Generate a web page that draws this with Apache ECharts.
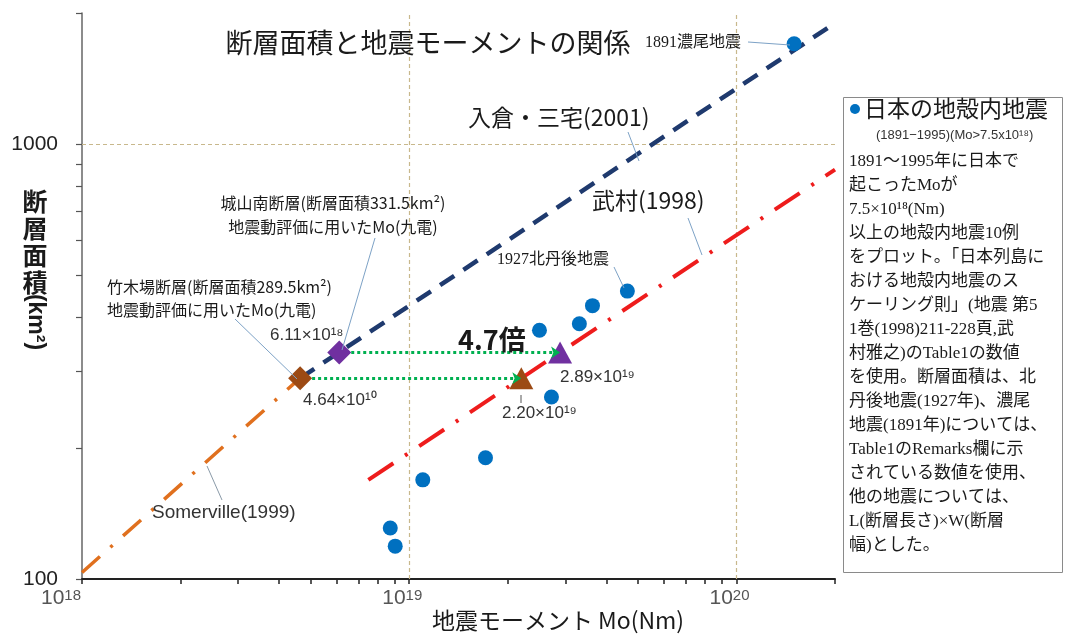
<!DOCTYPE html>
<html>
<head>
<meta charset="utf-8">
<title>断層面積と地震モーメントの関係</title>
<script src="https://cdn.jsdelivr.net/npm/echarts@6/dist/echarts.min.js"></script>
<style>
html, body { margin: 0; padding: 0; background: #fff; }
#main { width: 1066px; height: 635px; }
</style>
</head>
<body>
<div id="main"></div>
<script>
// 日本の地殻内地震 (1891-1995, Mo > 7.5x10^18)
var quakeMo   = [1.5e20, 4.64e19, 3.63e19, 3.31e19, 2.5e19, 2.72e19, 1.71e19, 1.10e19, 8.75e18, 9.06e18];
var quakeArea = [1700,   459,     425,     386,     373,    262,     190,     169,     131,     119];

// scaling lines (end points)
var somervilleMo = [1e18, 4.64e18];
var somervilleArea = [103.5, 289.5];
var irikuraMo = [4.64e18, 2e20];
var irikuraArea = [289.5, 1896];
var takemuraMo = [7.5e18, 2e20];
var takemuraArea = [169, 873];

// 竹木場断層 / 城山南断層
var faultArea = [289.5, 331.5];
var faultMoKyuden = [4.64e18, 6.11e18];
var faultMoTakemura = [2.20e19, 2.89e19];

// axes
var xTickValues = [1e18, 2e18, 3e18, 4e18, 5e18, 6e18, 7e18, 8e18, 9e18,
                   1e19, 2e19, 3e19, 4e19, 5e19, 6e19, 7e19, 8e19, 9e19,
                   1e20, 2e20];
var xLabelValues = [1e18, 1e19, 1e20];
var yTickValues = [100, 200, 300, 400, 500, 600, 700, 800, 900, 1000, 2000];
var yLabelValues = [100, 1000];
var gridX = [1e19, 1e20];
var gridY = [1000];

var legendLines = [
    '1891～1995年に日本で',
    '起こったMoが',
    '7.5×10¹⁸(Nm)',
    '以上の地殻内地震10例',
    'をプロット。「日本列島に',
    'おける地殻内地震のス',
    'ケーリング則」(地震 第5',
    '1巻(1998)211-228頁,武',
    '村雅之)のTable1の数値',
    'を使用。断層面積は、北',
    '丹後地震(1927年)、濃尾',
    '地震(1891年)については、',
    'Table1のRemarks欄に示',
    'されている数値を使用、',
    '他の地震については、',
    'L(断層長さ)×W(断層',
    '幅)とした。'
];

function pairs(xs, ys) {
    return xs.map(function (x, i) { return [x, ys[i]]; });
}

var sans = '"Noto Sans CJK JP", sans-serif';
var latin = '"Liberation Sans", "Noto Sans CJK JP", sans-serif';
var serif = '"Liberation Serif", "Noto Sans CJK JP", serif';

function txt(x, y, text, size, opt) {
    opt = opt || {};
    var style = {
        text: text,
        fontSize: size,
        fontFamily: opt.font || sans,
        fontWeight: opt.weight || 'normal',
        fill: opt.color || '#1a1a1a',
        align: opt.align || 'left',
        verticalAlign: opt.valign || 'middle'
    };
    if (opt.lineHeight) style.lineHeight = opt.lineHeight;
    return { type: 'text', x: x, y: y, z: 100, rotation: opt.rotation || 0, style: style };
}
function leader(x1, y1, x2, y2, color) {
    return {
        type: 'line', z: 99,
        shape: { x1: x1, y1: y1, x2: x2, y2: y2 },
        style: { stroke: color || '#7da2c6', lineWidth: 1 }
    };
}

var chart = echarts.init(document.getElementById('main'));
var option = {
    animation: false,
    backgroundColor: '#fff',
    grid: { left: 82, right: 231, top: 13, bottom: 56 },
    xAxis: {
        type: 'log',
        logBase: 10,
        min: 1e18,
        max: 2e20,
        axisLine: { lineStyle: { color: '#222', width: 2 } },
        axisTick: { show: true, length: 5, customValues: xTickValues, lineStyle: { color: '#222', width: 1.5 } },
        axisLabel: {
            customValues: xLabelValues,
            margin: 9,
            formatter: function (v) {
                var e = Math.round(Math.log(v) / Math.LN10);
                return '{b|10}{s|' + e + '}' + (v === 1e18 ? '{g2|}' : '{g|}');
            },
            rich: {
                b: { fontSize: 21, color: '#555', fontFamily: latin },
                s: { fontSize: 15, color: '#555', fontFamily: latin, verticalAlign: 'top' },
                g: { width: 14 },
                g2: { width: 42 }
            }
        },
        splitLine: { show: false }
    },
    yAxis: {
        type: 'log',
        logBase: 10,
        min: 100,
        max: 2000,
        axisLine: { lineStyle: { color: '#666', width: 1.5 } },
        axisTick: { show: true, length: 6, customValues: yTickValues, lineStyle: { color: '#555', width: 1.2 } },
        axisLabel: {
            customValues: yLabelValues,
            margin: 24,
            fontSize: 21,
            color: '#222',
            fontFamily: latin,
            formatter: function (v) { return String(Math.round(v)); }
        },
        splitLine: { show: false }
    },
    series: [
        {
            name: 'Somerville(1999)',
            type: 'line',
            z: 2,
            symbol: 'none',
            data: pairs(somervilleMo, somervilleArea),
            lineStyle: { color: '#e0701e', width: 3.5, type: [24, 14, 3, 14] }
        },
        {
            name: '入倉・三宅(2001)',
            type: 'line',
            z: 2,
            symbol: 'none',
            data: pairs(irikuraMo, irikuraArea),
            lineStyle: { color: '#1f3a6e', width: 4.5, type: [17, 11] }
        },
        {
            name: '武村(1998)',
            type: 'line',
            z: 2,
            symbol: 'none',
            data: pairs(takemuraMo, takemuraArea),
            lineStyle: { color: '#ee1c1c', width: 4, type: [30, 14, 3, 14] }
        },
        {
            name: '日本の地殻内地震',
            type: 'scatter',
            z: 6,
            symbolSize: 15,
            itemStyle: { color: '#0070c0', opacity: 1 },
            data: pairs(quakeMo, quakeArea),
            markLine: {
                silent: true,
                z: 1,
                symbol: 'none',
                label: { show: false },
                lineStyle: { color: '#c8b88c', type: [4, 3], width: 1.2 },
                data: gridX.map(function (v) { return { xAxis: v }; })
                    .concat(gridY.map(function (v) { return { yAxis: v }; }))
            }
        },
        {
            name: '武村Mo',
            type: 'scatter',
            z: 3,
            symbol: 'triangle',
            symbolSize: [24, 22],
            data: [
                { value: [faultMoTakemura[0], faultArea[0]], itemStyle: { color: '#9c4a14', opacity: 1 } },
                { value: [faultMoTakemura[1], faultArea[1]], itemStyle: { color: '#7030a0', opacity: 1 } }
            ],
            markLine: {
                silent: true,
                z: 4,
                symbol: ['none', 'arrow'],
                symbolSize: 9,
                label: { show: false },
                lineStyle: { color: '#00b050', type: 'dotted', width: 3 },
                data: faultArea.map(function (a, i) {
                    return [{ coord: [faultMoKyuden[i], a] }, { coord: [faultMoTakemura[i], a] }];
                })
            }
        },
        {
            name: '九電Mo',
            type: 'scatter',
            z: 5,
            symbol: 'diamond',
            symbolSize: [24, 24],
            data: [
                { value: [faultMoKyuden[0], faultArea[0]], itemStyle: { color: '#9c4a14', opacity: 1 } },
                { value: [faultMoKyuden[1], faultArea[1]], itemStyle: { color: '#7030a0', opacity: 1 } }
            ]
        }
    ],
    graphic: [
        txt(428, 43, '断層面積と地震モーメントの関係', 27, { align: 'center' }),
        // y axis name
        txt(35, 188, '断\n層\n面\n積', 25, { align: 'center', valign: 'top', weight: 'bold', lineHeight: 27 }),
        txt(35, 322, '(km²)', 23, { align: 'center', weight: 'bold', rotation: -Math.PI / 2, font: latin }),
        // x axis name
        txt(558, 620, '地震モーメント Mo(Nm)', 23, { align: 'center' }),

        txt(645, 43, '1891濃尾地震', 16, { font: serif }),
        leader(748, 42, 790, 45),
        txt(468, 117, '入倉・三宅(2001)', 23),
        leader(628, 132, 639, 161),
        txt(592, 200, '武村(1998)', 23),
        leader(688, 218, 702, 255),
        txt(333, 203, '城山南断層(断層面積331.5km²)', 16, { align: 'center' }),
        txt(333, 227, '地震動評価に用いたMo(九電)', 16, { align: 'center' }),
        leader(375, 238, 342, 350),
        txt(107, 287, '竹木場断層(断層面積289.5km²)', 16),
        txt(107, 310, '地震動評価に用いたMo(九電)', 16),
        leader(235, 319, 297, 379),
        txt(270, 335, '6.11×10¹⁸', 17, { font: latin, color: '#333' }),
        txt(303, 400, '4.64×10¹⁰', 17, { font: latin, color: '#333' }),
        txt(458, 340, '4.7倍', 27, { weight: 'bold' }),
        txt(560, 377, '2.89×10¹⁹', 17, { font: latin, color: '#333' }),
        txt(502, 413, '2.20×10¹⁹', 17, { font: latin, color: '#333' }),
        leader(521, 395, 521, 403, '#555'),
        txt(497, 260, '1927北丹後地震', 16, { font: serif }),
        leader(614, 267, 624, 288),
        txt(152, 513, 'Somerville(1999)', 19, { font: latin, color: '#333' }),
        leader(222, 500, 207, 466, '#8a9aa8'),

        // legend box
        {
            type: 'rect', z: 98,
            shape: { x: 843.5, y: 97.5, width: 219, height: 475 },
            style: { fill: '#fff', stroke: '#8a8a8a', lineWidth: 1 }
        },
        { type: 'circle', z: 100, shape: { cx: 855, cy: 109, r: 5 }, style: { fill: '#0070c0' } },
        txt(864, 108, '日本の地殻内地震', 23),
        txt(876, 135, '(1891−1995)(Mo>7.5x10¹⁸)', 13, { font: latin, color: '#333' }),
        txt(849, 150, legendLines.join('\n'), 17, { font: serif, valign: 'top', lineHeight: 24 })
    ]
};
chart.setOption(option);
</script>
</body>
</html>
